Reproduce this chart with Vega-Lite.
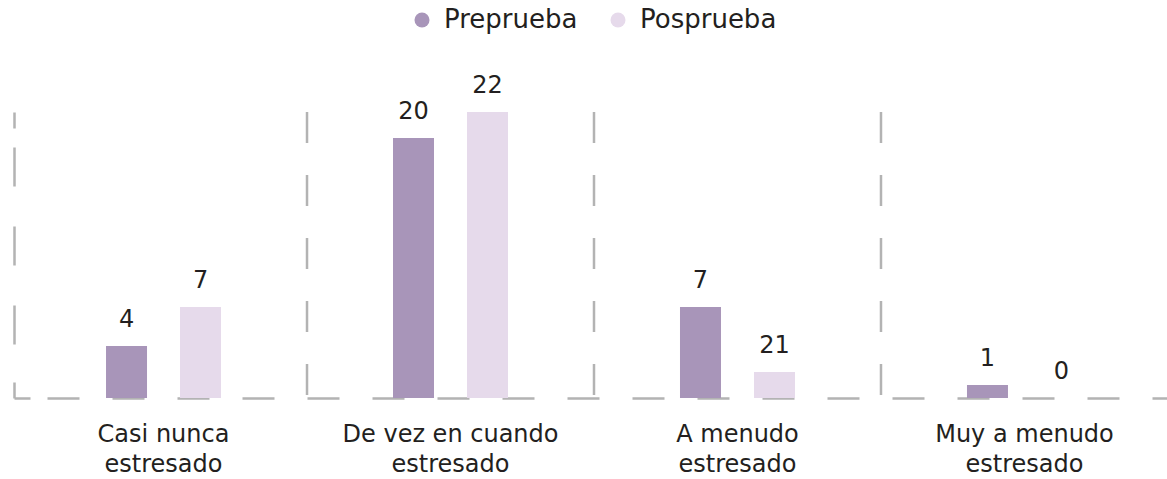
{
  "$schema": "https://vega.github.io/schema/vega-lite/v6.json",
  "width": 1160,
  "height": 286,
  "autosize": {"type": "none"},
  "padding": {"left": 14, "top": 112, "right": 0, "bottom": 81},
  "background": "white",
  "config": {
    "view": {"stroke": null},
    "font": "DejaVu Sans",
    "axisX": {
      "title": null,
      "ticks": false,
      "grid": false,
      "domain": true,
      "domainColor": "#b3b3b3",
      "domainWidth": 2.5,
      "domainDash": [16, 17, 32, 33, 32, 33, 32, 33, 32, 33, 32, 33, 32, 33, 32, 33, 32, 33, 32, 33, 32, 33, 32, 33, 32, 33, 32, 33, 32, 33, 32, 33, 32, 33, 32, 33, 32, 33],
      "domainDashOffset": 0,
      "labelAngle": 0,
      "labelFont": "DejaVu Sans",
      "labelFontSize": 24,
      "labelColor": "#231f20",
      "labelLineHeight": 30,
      "labelPadding": 24,
      "labelLimit": 400,
      "zindex": 0
    },
    "axisY": {
      "title": null,
      "labels": false,
      "ticks": false,
      "grid": false,
      "domain": true,
      "domainColor": "#b3b3b3",
      "domainWidth": 2.5,
      "domainDash": [16, 38, 39, 40, 39, 40, 39, 19, 16, 20],
      "domainDashOffset": 0,
      "zindex": 0
    }
  },
  "data": {
    "values": [
      {"cat": "Casi nunca estresado", "serie": "Preprueba", "n": 4, "label": "4"},
      {"cat": "Casi nunca estresado", "serie": "Posprueba", "n": 7, "label": "7"},
      {"cat": "De vez en cuando estresado", "serie": "Preprueba", "n": 20, "label": "20"},
      {"cat": "De vez en cuando estresado", "serie": "Posprueba", "n": 22, "label": "22"},
      {"cat": "A menudo estresado", "serie": "Preprueba", "n": 7, "label": "7"},
      {"cat": "A menudo estresado", "serie": "Posprueba", "n": 2, "label": "21"},
      {"cat": "Muy a menudo estresado", "serie": "Preprueba", "n": 1, "label": "1"},
      {"cat": "Muy a menudo estresado", "serie": "Posprueba", "n": 0, "label": "0"}
    ]
  },
  "encoding": {
    "x": {
      "field": "cat",
      "type": "nominal",
      "scale": {
        "domain": ["Casi nunca estresado", "De vez en cuando estresado", "A menudo estresado", "Muy a menudo estresado"],
        "paddingInner": 0,
        "paddingOuter": 0.021
      },
      "axis": {"labelExpr": "[replace(datum.label, ' estresado', ''), 'estresado']"}
    }
  },
  "layer": [
    {
      "transform": [{"filter": "datum.serie == 'Preprueba' && datum.cat != 'Casi nunca estresado'"}],
      "mark": {"type": "rule", "color": "#b3b3b3", "strokeWidth": 2.5, "strokeDash": [31, 32], "strokeDashOffset": 0},
      "encoding": {
        "x": {
          "field": "cat",
          "type": "nominal",
          "bandPosition": 0,
          "axis": {"labelExpr": "[replace(datum.label, ' estresado', ''), 'estresado']"}
        }
      }
    },
    {
      "mark": {"type": "bar", "width": 41},
      "encoding": {
        "xOffset": {
          "field": "serie",
          "type": "nominal",
          "sort": ["Preprueba", "Posprueba"],
          "scale": {"paddingInner": 0, "paddingOuter": 0.939}
        },
        "y": {
          "field": "n",
          "type": "quantitative",
          "scale": {"domain": [0, 22], "nice": false, "zero": true}
        },
        "color": {
          "field": "serie",
          "type": "nominal",
          "scale": {"domain": ["Preprueba", "Posprueba"], "range": ["#a895b9", "#e6daeb"]},
          "legend": {
            "orient": "none",
            "legendX": 395,
            "legendY": -105,
            "direction": "horizontal",
            "title": null,
            "symbolType": "circle",
            "symbolSize": 225,
            "symbolStrokeWidth": 0,
            "labelFont": "DejaVu Sans",
            "labelFontSize": 26,
            "labelColor": "#231f20",
            "labelOffset": 9,
            "columnPadding": 27,
            "padding": 0
          }
        }
      }
    },
    {
      "mark": {"type": "text", "baseline": "alphabetic", "dy": -19, "fontSize": 24, "font": "DejaVu Sans", "color": "#231f20"},
      "encoding": {
        "xOffset": {"field": "serie", "type": "nominal", "sort": ["Preprueba", "Posprueba"]},
        "y": {"field": "n", "type": "quantitative"},
        "text": {"field": "label", "type": "nominal"}
      }
    }
  ]
}
